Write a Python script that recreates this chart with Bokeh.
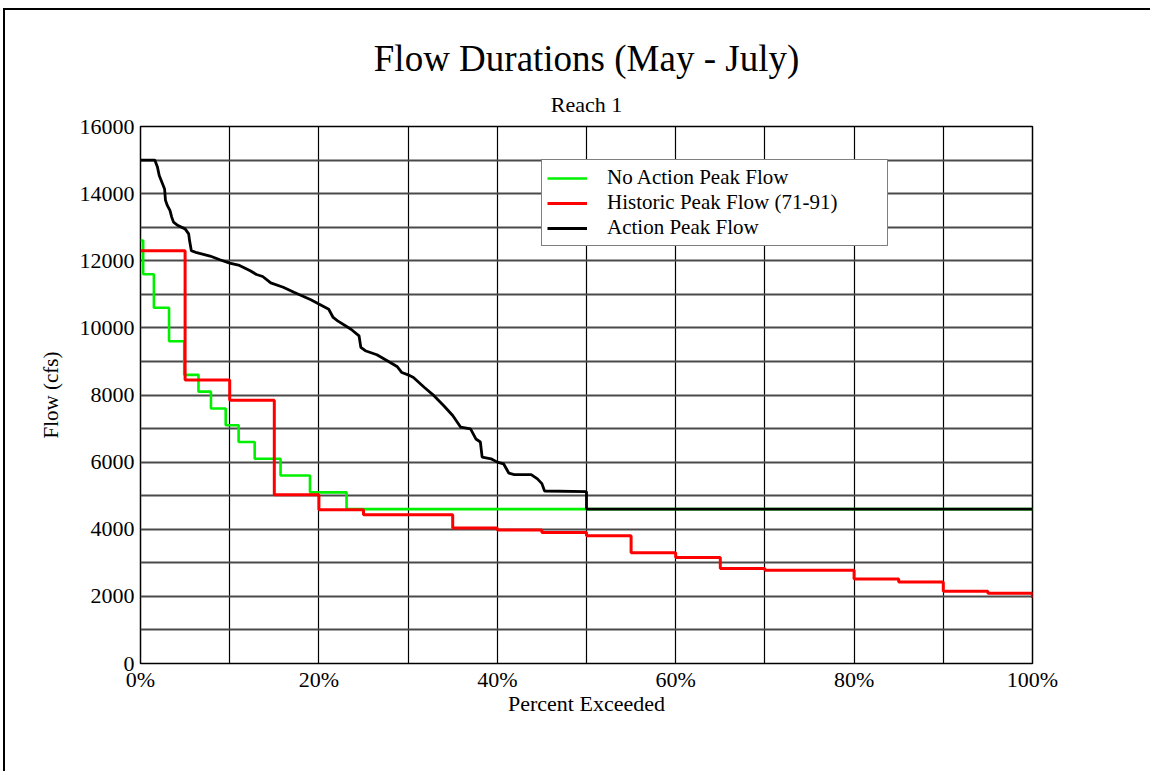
from bokeh.plotting import figure
from bokeh.models import Range1d, FixedTicker, PrintfTickFormatter, Legend, LegendItem, Title
from bokeh.embed import file_html
from bokeh.resources import INLINE

# ---- data ----
y_ticks = [0, 2000, 4000, 6000, 8000, 10000, 12000, 14000, 16000]
x_ticks = [0, 20, 40, 60, 80, 100]

no_action_pct = [0, 0.3, 1.5, 3.2, 4.9, 6.5, 7.9, 9.55, 11.0, 12.8, 15.7, 19.0, 23.1, 100]
no_action_flow = [12600, 11600, 10600, 9600, 8600, 8100, 7600, 7100, 6600, 6100, 5600, 5100, 4600, 4600]

historic_pct = [0, 5, 10, 15, 20, 25, 35, 40, 45, 50, 55, 60, 65, 70, 80, 85, 90, 95, 100]
historic_flow = [12300, 8450, 7840, 5030, 4580, 4430, 4040, 3980, 3900, 3810, 3300, 3160,
                 2830, 2780, 2520, 2430, 2150, 2090, 1950]

action_pct = [0, 1.6, 1.9, 2.1, 2.4, 2.7, 2.8, 3.0, 3.3, 3.5, 3.7, 4.2, 5.0, 5.4, 5.5, 5.7,
              6.3, 7.8, 8.9, 10.0, 11.1, 12.3, 13.0, 13.7, 14.6, 16.0, 17.2, 19.1, 20.0,
              21.1, 21.6, 22.1, 23.6, 24.5, 24.7, 25.2, 26.5, 28.0, 28.8, 29.3, 30.0, 30.6,
              31.8, 32.9, 34.0, 35.0, 35.9, 37.0, 37.6, 38.1, 38.3, 39.3, 40.0, 40.7, 41.3,
              41.9, 43.8, 44.5, 45.0, 45.3, 50.0, 50.0, 100.0]
action_flow = [15000, 15000, 14790, 14540, 14340, 14140, 13800, 13650, 13500, 13300, 13150,
               13050, 12950, 12800, 12600, 12300, 12240, 12140, 12030, 11930, 11860, 11700,
               11590, 11530, 11340, 11210, 11060, 10840, 10710, 10555, 10310, 10210, 9960,
               9763, 9420, 9320, 9200, 8970, 8840, 8670, 8600, 8520, 8230, 7980, 7680, 7390,
               7040, 6990, 6690, 6600, 6150, 6100, 6000, 5950, 5670, 5630, 5630, 5500, 5360,
               5140, 5120, 4600, 4600]

FONT = "Liberation Serif"

p = figure(width=1147, height=763, x_range=Range1d(0, 100), y_range=Range1d(0, 16000),
           output_backend="svg", toolbar_location=None, title=None,
           min_border_left=135, min_border_right=120, min_border_top=116, min_border_bottom=110,
           x_axis_label="Percent Exceeded", y_axis_label="Flow (cfs)",
           styles={"border-left": "2px solid black", "border-top": "2px solid black",
                   "margin-left": "3px", "margin-top": "8px"})

p.background_fill_color = "white"
p.border_fill_color = "white"
p.outline_line_color = "black"
p.outline_line_width = 1.5

# grid
p.xgrid.ticker = FixedTicker(ticks=list(range(0, 101, 10)))
p.ygrid.ticker = FixedTicker(ticks=list(range(0, 16001, 1000)))
p.xgrid.grid_line_color = "black"
p.xgrid.grid_line_width = 1.2
p.ygrid.grid_line_color = "#4a4a4a"
p.ygrid.grid_line_width = 1.8

# axes
p.xaxis.ticker = FixedTicker(ticks=x_ticks)
p.xaxis.formatter = PrintfTickFormatter(format="%d%%")
p.yaxis.ticker = FixedTicker(ticks=y_ticks)
for ax in (p.xaxis, p.yaxis):
    ax.axis_line_color = None
    ax.major_tick_line_color = None
    ax.minor_tick_line_color = None
    ax.major_tick_out = 0
    ax.major_tick_in = 0
    ax.minor_tick_out = 0
    ax.minor_tick_in = 0
    ax.major_label_text_font = FONT
    ax.major_label_text_font_size = "22px"
    ax.major_label_text_color = "black"
    ax.axis_label_text_font = FONT
    ax.axis_label_text_font_style = "normal"
    ax.axis_label_text_color = "black"
p.xaxis.major_label_standoff = 3
p.yaxis.major_label_standoff = 6
p.xaxis.axis_label_text_font_size = "22px"
p.yaxis.axis_label_text_font_size = "21px"
p.xaxis.axis_label_standoff = -4
p.yaxis.axis_label_standoff = 14

# titles
sub = Title(text="Reach 1", align="center", text_font=FONT, text_font_size="22px",
            text_font_style="normal", text_color="black", standoff=20)
p.add_layout(sub, "above")
main = Title(text="Flow Durations (May - July)", align="center", text_font=FONT,
             text_font_size="37px", text_font_style="normal", text_color="black", standoff=2)
p.add_layout(main, "above")

# series
r_green = p.step(no_action_pct, no_action_flow, mode="after", line_color="#00f000", line_width=2.6)
r_red = p.step(historic_pct, historic_flow, mode="after", line_color="#ff0000", line_width=3)
r_black = p.line(action_pct, action_flow, line_color="black", line_width=2.8)

legend = Legend(items=[LegendItem(label="No Action Peak Flow", renderers=[r_green]),
                       LegendItem(label="Historic Peak Flow (71-91)", renderers=[r_red]),
                       LegendItem(label="Action Peak Flow", renderers=[r_black])],
                location=(401, 417), label_text_font=FONT, label_text_font_size="21px",
                label_text_color="black",
                label_height=24, label_width=275, glyph_width=40, glyph_height=20,
                label_standoff=20, padding=5, spacing=0, margin=0,
                border_line_color="black", border_line_width=1.5,
                background_fill_color="white", background_fill_alpha=1.0)
p.add_layout(legend, "center")

open("out.html", "w").write(file_html(p, INLINE))
